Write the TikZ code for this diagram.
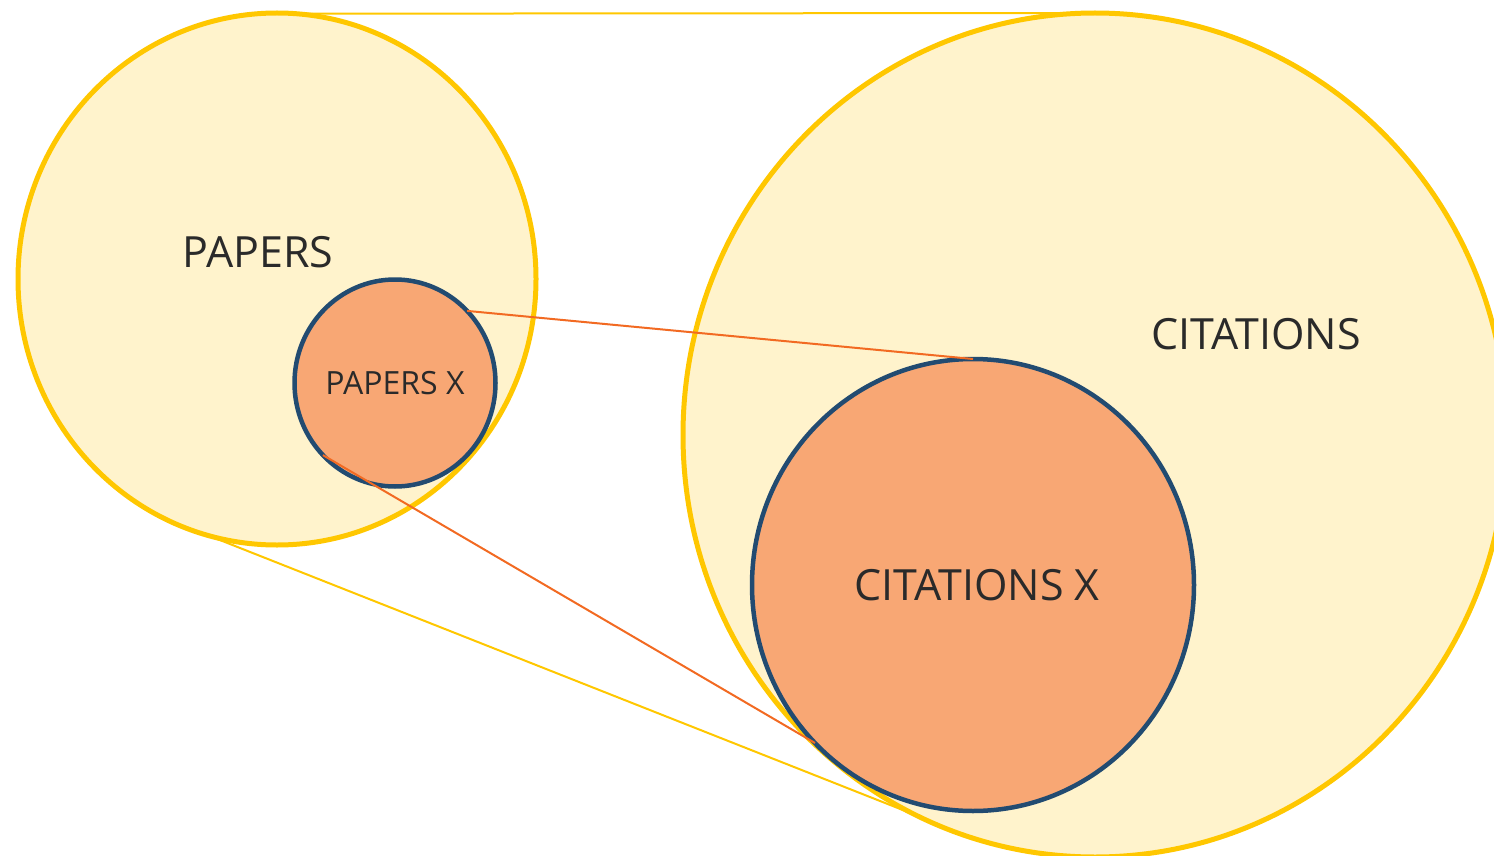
\documentclass[tikz,border=0pt]{standalone}
\usepackage{fontspec}
\setmainfont{Open Sans}
\usepackage{tikz}
\usetikzlibrary{shapes.geometric}
\definecolor{setfill}{HTML}{FFF3CC}
\definecolor{setdraw}{HTML}{FFC700}
\definecolor{subfill}{HTML}{F8A774}
\definecolor{subdraw}{HTML}{224B71}
\definecolor{subline}{HTML}{F26A22}
\definecolor{labeltext}{HTML}{2A2A2A}
\tikzstyle{bigset}  = [ellipse, inner sep=0, outer sep=0, draw=setdraw, fill=setfill, line width=5pt]
\tikzstyle{subset}  = [ellipse, inner sep=0, outer sep=0, draw=subdraw, fill=subfill, line width=4.5pt, text=labeltext]
\tikzstyle{setname} = [text=labeltext, font=\fontsize{43}{52}\selectfont]
\tikzstyle{biglink} = [draw=setdraw, line width=2pt]
\tikzstyle{sublink} = [draw=subline, line width=2pt]

\begin{document}
\begin{tikzpicture}[x=1pt, y=-1pt]
    \useasboundingbox (0,0) rectangle (1494,856);
    \clip (0,0) rectangle (1494,856);

    \node (papers)     at ( 277, 279) [bigset, minimum width=518pt, minimum height=532pt] {};
    \node (citations)  at (1095, 435) [bigset, minimum width=824pt, minimum height=844pt] {};
    \node (papersx)    at ( 395, 383) [subset, minimum width=201pt, minimum height=207pt,
                                       font=\fontsize{32}{38}\selectfont] {PAPERS X};
    \node (citationsx) at ( 973, 585) [subset, minimum width=442pt, minimum height=452pt,
                                       font=\fontsize{43}{52}\selectfont] {\raisebox{-5pt}{\hspace{8pt}CITATIONS X}};
    \node (papersname)    at ( 258, 252) [setname] {PAPERS};
    \node (citationsname) at (1256, 334) [setname] {CITATIONS};

    \draw [biglink] (papers.86)  -- (citations.north);
    \draw [biglink] (papers.255) -- (citations.245);
    \draw [sublink] (papersx.45)  -- (citationsx.north);
    \draw [sublink] (papersx.225) -- (citationsx.225);
\end{tikzpicture}
\end{document}
